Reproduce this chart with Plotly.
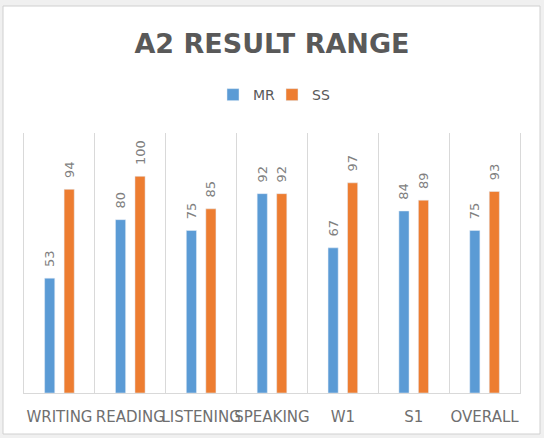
# %% Imports

import plotly.graph_objects as go

# %% Dados

categorias = ["WRITING", "READING", "LISTENING", "SPEAKING", "W1", "S1", "OVERALL"]
mr = [53, 80, 75, 92, 67, 84, 75]
ss = [94, 100, 85, 92, 97, 89, 93]

cor_mr = "#5B9BD5"
cor_ss = "#ED7D31"
cinza = "#595959"
fonte = "DejaVu Sans"

# %% Grafico de barra - MR vs SS

fig = go.Figure()
for nome, valores, cor in [("MR", mr, cor_mr), ("SS", ss, cor_ss)]:
    fig.add_trace(
        go.Bar(
            name=nome,
            x=categorias,
            y=valores,
            marker_color=cor,
            text=valores,
            texttemplate="\u00a0\u00a0%{text}",
            textposition="outside",
            textangle=-90,
            constraintext="none",
            cliponaxis=False,
            textfont=dict(family=fonte, size=13, color="#808080"),
        )
    )

fig.update_layout(
    width=544,
    height=438,
    barmode="group",
    bargap=0.45,
    bargroupgap=0.48,
    margin=dict(l=24, r=24, t=133, b=45),
    paper_bgcolor="#f0f0f0",
    plot_bgcolor="rgba(0,0,0,0)",
    title=dict(
        text="<b>A2 RESULT RANGE</b>",
        x=0.5,
        xanchor="center",
        y=1 - 44 / 438,
        yanchor="middle",
        font=dict(family=fonte, size=27, color=cinza),
    ),
    legend=dict(
        orientation="h",
        x=0.5,
        xanchor="center",
        y=1.146,
        yanchor="middle",
        entrywidth=14,
        font=dict(family=fonte, size=14, color=cinza),
        bgcolor="rgba(0,0,0,0)",
    ),
    shapes=[
        dict(
            type="rect",
            xref="paper",
            yref="paper",
            x0=-21 / 496,
            x1=516 / 496,
            y0=-41 / 260,
            y1=387 / 260,
            fillcolor="white",
            line=dict(color="#d0d0d0", width=1),
            layer="below",
        )
    ],
)

fig.update_xaxes(
    tickson="boundaries",
    showgrid=True,
    gridcolor="#d9d9d9",
    showline=True,
    linecolor="#d9d9d9",
    tickangle=0,
    ticks="",
    ticklabelstandoff=10,
    tickfont=dict(family=fonte, size=15, color="#6f6f6f"),
)
fig.update_yaxes(
    range=[0, 120],
    showgrid=False,
    showticklabels=False,
    zeroline=False,
    showline=True,
    mirror=True,
    linecolor="#d9d9d9",
)

# tira a margem do body para o grafico ficar no canto da pagina
fig.write_html(
    "out.html",
    config={"displayModeBar": False},
    post_script="document.body.style.margin = '0';",
)
